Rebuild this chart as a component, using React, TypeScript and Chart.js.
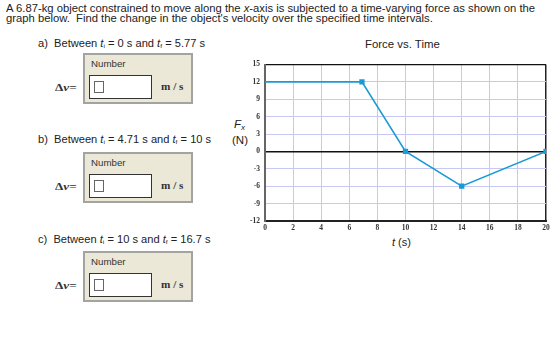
import React, { useEffect, useRef } from "react";
import { Chart, registerables } from "chart.js";

Chart.register(...registerables);

const times = [0, 6.9, 10, 14, 20];
const forces = [12, 12, 0, -6, 0];
const markerShown = [false, true, true, true, true];
const yMin = -12;
const yMax = 15;
const yStep = 3;
const xMin = 0;
const xMax = 20;
const xStep = 2;

const parts = [
  { label: "a)", ti: "0", tf: "5.77" },
  { label: "b)", ti: "4.71", tf: "10" },
  { label: "c)", ti: "10", tf: "16.7" },
];
const partTextTops = [38, 134, 234];
const boxTops = [53, 152, 251];

const stretch = (k: number): React.CSSProperties => ({
  transform: `scaleX(${k})`,
  transformOrigin: "left center",
  whiteSpace: "nowrap",
});

const ForceChart: React.FC = () => {
  const ref = useRef<HTMLCanvasElement | null>(null);
  useEffect(() => {
    if (!ref.current) return;
    const chart = new Chart(ref.current, {
      type: "line",
      data: {
        datasets: [
          {
            data: times.map((t, i) => ({ x: t, y: forces[i] })),
            borderColor: "#1a9ad6",
            backgroundColor: "#1a9ad6",
            borderWidth: 1.6,
            pointStyle: "rect",
            pointRadius: markerShown.map((m) => (m ? 2.6 : 0)),
            pointHoverRadius: 0,
            tension: 0,
          },
        ],
      },
      options: {
        animation: false,
        responsive: false,
        maintainAspectRatio: false,
        events: [],
        layout: { padding: { top: 9, right: 14, left: 0, bottom: 0 } },
        plugins: { legend: { display: false }, tooltip: { enabled: false }, title: { display: false } },
        scales: {
          x: {
            type: "linear",
            min: xMin,
            max: xMax,
            afterFit: (s: any) => {
              s.height = 29;
            },
            ticks: {
              stepSize: xStep,
              padding: 3,
              color: "#333",
              font: { family: "Liberation Serif", size: 7.5, weight: "bold" },
              maxRotation: 0,
            },
            grid: {
              drawTicks: false,
              color: (c: any) => (c.tick && c.tick.value === xMax ? "#222" : "#c8c8f4"),
              lineWidth: (c: any) => (c.tick && c.tick.value === xMax ? 1.5 : 1),
            },
            border: { color: "#222", width: 2 },
          },
          y: {
            type: "linear",
            min: yMin,
            max: yMax,
            afterFit: (s: any) => {
              s.width = 35;
            },
            ticks: {
              stepSize: yStep,
              padding: 5,
              color: "#333",
              font: { family: "Liberation Serif", size: 7.5, weight: "bold" },
            },
            grid: {
              drawTicks: false,
              color: (c: any) =>
                c.tick && (c.tick.value === 0 || c.tick.value === yMax) ? "#111" : "#c8c8f4",
              lineWidth: (c: any) =>
                c.tick && c.tick.value === 0 ? 1.6 : c.tick && c.tick.value === yMax ? 1.2 : 1,
            },
            border: { color: "#666", width: 2 },
          },
        },
      },
    });
    return () => chart.destroy();
  }, []);
  return (
    <canvas
      ref={ref}
      width={330}
      height={195}
      style={{ position: "absolute", left: 230, top: 55, width: 330, height: 195 }}
    />
  );
};

const Sub: React.FC<{ s: string }> = ({ s }) => (
  <span>
    <i>t</i>
    <sub style={{ fontSize: 6, verticalAlign: "-1px" }}>{s}</sub>
  </span>
);

const AnswerBox: React.FC<{ top: number }> = ({ top }) => (
  <>
    <div
      style={{
        position: "absolute",
        left: 55,
        top: top + 28,
        fontFamily: "Liberation Serif",
        fontWeight: "bold",
        fontSize: 11,
        color: "#333",
        ...stretch(1.2),
      }}
    >
      Δ<i>v</i>=
    </div>
    <div
      style={{
        position: "absolute",
        left: 83,
        top: top,
        width: 106,
        height: 47,
        border: "2px solid #a3a3a0",
        background: "#ebe8d7",
      }}
    >
      <div
        style={{
          position: "absolute",
          left: 6,
          top: 4,
          fontSize: 9,
          color: "#333",
          fontFamily: "Liberation Sans",
          ...stretch(1.08),
        }}
      >
        Number
      </div>
      <div
        style={{
          position: "absolute",
          left: 4,
          top: 20,
          width: 61,
          height: 22,
          border: "1px solid #333",
          background: "#fff",
        }}
      >
        <div
          style={{
            position: "absolute",
            left: 4,
            top: 5,
            width: 8,
            height: 10,
            border: "1px solid #666",
          }}
        />
      </div>
      <div
        style={{
          position: "absolute",
          left: 76,
          top: 26,
          fontFamily: "Liberation Serif",
          fontWeight: "bold",
          fontSize: 10,
          color: "#333",
          ...stretch(1.12),
        }}
      >
        m / s
      </div>
    </div>
  </>
);

export default function App() {
  return (
    <div
      style={{
        position: "absolute",
        left: 0,
        top: 0,
        width: 560,
        height: 342,
        background: "#fff",
        fontFamily: "Liberation Sans, Arial, sans-serif",
        color: "#222",
        overflow: "hidden",
      }}
    >
      <div style={{ position: "absolute", left: 6, top: 4, fontSize: 10, lineHeight: "9.5px", ...stretch(1.125) }}>
        A 6.87-kg object constrained to move along the <i>x</i>-axis is subjected to a time-varying force as shown on the
        <br />
        graph below.&nbsp; Find the change in the object's velocity over the specified time intervals.
      </div>
      {parts.map((p, i) => (
        <div
          key={p.label}
          style={{ position: "absolute", left: 38, top: partTextTops[i], fontSize: 10, ...stretch(1.11) }}
        >
          {p.label}&nbsp; Between <Sub s="i" /> = {p.ti} s and <Sub s="f" /> = {p.tf} s
        </div>
      ))}
      {boxTops.map((t) => (
        <AnswerBox key={t} top={t} />
      ))}
      <div style={{ position: "absolute", left: 365, top: 39, fontSize: 10, ...stretch(1.14) }}>Force vs. Time</div>
      <div style={{ position: "absolute", left: 232, top: 118, fontSize: 11.5, lineHeight: "12px" }}>
        <div style={{ paddingLeft: 2 }}>
          <i>F</i>
          <sub style={{ fontSize: 8, verticalAlign: "-2px" }}>
            <i>x</i>
          </sub>
        </div>
        <div>(N)</div>
      </div>
      <div style={{ position: "absolute", left: 392, top: 236, fontSize: 11, whiteSpace: "nowrap" }}>
        <i>t</i> (s)
      </div>
      <ForceChart />
    </div>
  );
}
